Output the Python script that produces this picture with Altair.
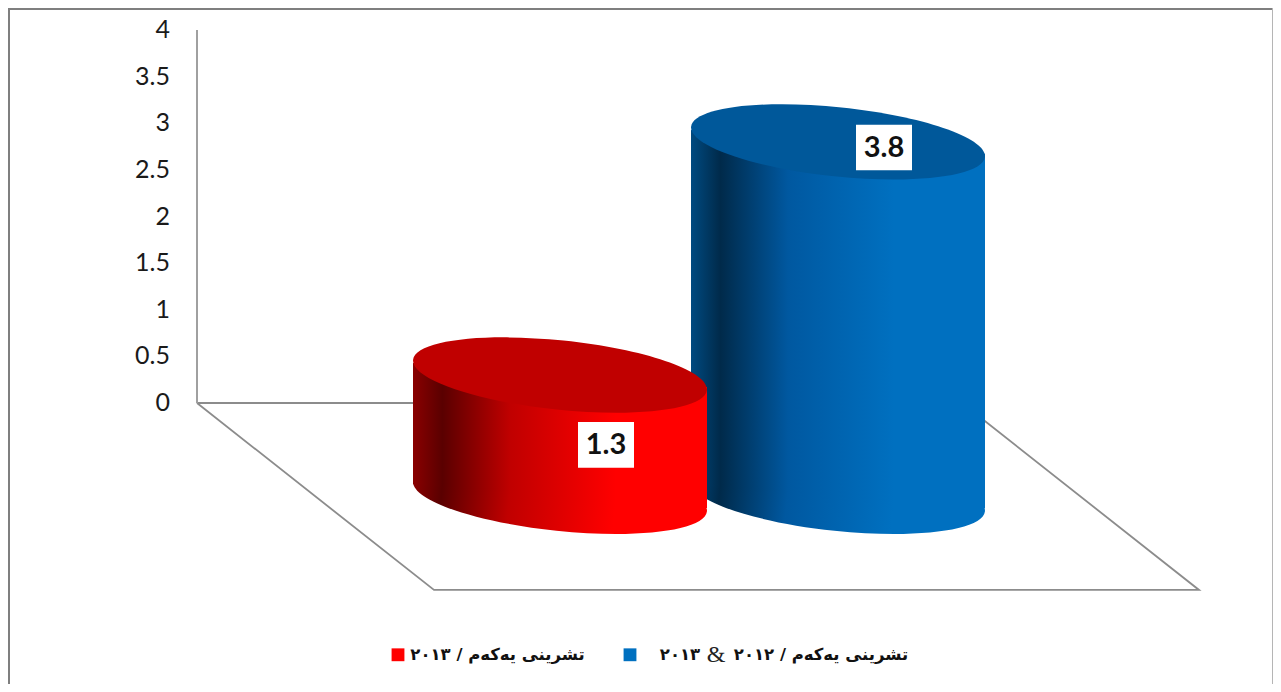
import altair as alt
import pandas as pd

# ---- values
series_a = ["تشرینی یەکەم / ٢٠١٣", "تشرینی یەکەم / ٢٠١٢", "٢٠١٣"]
amp = "&"
values = [1.3, 3.8]
value_labels = ["1.3", "3.8"]
y_ticks = [0, 0.5, 1, 1.5, 2, 2.5, 3, 3.5, 4]

# horizontal floor units are pixels of the plot; vertical units are chart values
cyl_left = [405, 683]
cyl_right = [699, 977]
floor_base = -1.0          # base centre of the cylinders, below the axis zero
edge_drop = 0.128          # tilt of the ellipse at its left / right edge
label_x = [598, 876]
label_y = [-0.45, 2.74]
label_half_w = 28
label_half_h = 0.245
floor_x = [189, 426, 1191, 954, 189]
floor_y = [0, -2.005, -2.005, 0, 0]
axis_x = [189, 189]
axis_y = [0, 4]
legend_sq_x = [390, 622]
legend_text_x = [489.5, 813, 672]
legend_amp_x = 708
legend_y = -2.7

side_stops = [
    [("#8a0000", 0), ("#5a0000", 0.1), ("#c00000", 0.33), ("#ff0000", 0.69), ("#ff0000", 1)],
    [("#004a80", 0), ("#002a4a", 0.1), ("#0058a0", 0.33), ("#0070c0", 0.69), ("#0070c0", 1)],
]
top_colors = ["#c00000", "#00589a"]
legend_colors = ["#ff0000", "#0070c0"]

W, H = 1265, 676
Y_TOP = 4.236
Y_BOTTOM = Y_TOP - H / 93.25
frame_left_x = [1, 1]
frame_left_y = [Y_BOTTOM, Y_TOP]
frame_top_x = [0, W]
frame_top_y = [Y_TOP - 0.011, Y_TOP - 0.011]
frame_right_x = [W - 0.5, W - 0.5]
frame_right_y = [Y_BOTTOM, Y_TOP]

x_scale = alt.Scale(domain=[0, W], range=[0, W], nice=False, zero=False)
y_scale = alt.Scale(domain=[Y_BOTTOM, Y_TOP], range=[H, 0], nice=False, zero=False)
X = lambda f: alt.X(f, type="quantitative", scale=x_scale, axis=None)
Y = lambda f: alt.Y(f, type="quantitative", scale=y_scale, axis=None)
grad = lambda stops: alt.LinearGradient(
    gradient="linear", x1=0, x2=1, y1=0, y2=0,
    stops=[alt.GradientStop(color=c, offset=o) for c, o in stops],
)
ELLIPSE = ("M-1,0 C-1,-0.1295 -0.5523,-0.2345 0,-0.2345 C0.5523,-0.2345 1,-0.1295 1,0 "
           "C1,0.1295 0.5523,0.2345 0,0.2345 C-0.5523,0.2345 -1,0.1295 -1,0 Z")
ELL_SIZE = (2 * 147.7) ** 2
TILT = 5.9


def line(xs, ys, color, width):
    df = pd.DataFrame({"x": xs, "y": ys, "o": range(len(xs))})
    return alt.Chart(df).mark_line(color=color, strokeWidth=width).encode(
        x=X("x"), y=Y("y"), order="o:O")


layers = [
    line(frame_left_x, frame_left_y, "#7f7f7f", 2),
    line(frame_top_x, frame_top_y, "#7f7f7f", 2),
    line(frame_right_x, frame_right_y, "#b5b5b5", 1),
    line(floor_x, floor_y, "#8c8c8c", 1.8),
    line(axis_x, axis_y, "#a0a0a0", 2),
]

layers.append(alt.Chart(pd.DataFrame({"x": [axis_x[0] - 27] * len(y_ticks), "y": y_ticks,
                                      "t": [f"{v:g}" for v in y_ticks]})).mark_text(
    font="Lato", fontSize=25, align="right", baseline="middle", color="#1a1a1a"
).encode(x=X("x"), y=Y("y"), text="t:N"))

for i in [1, 0]:  # blue stands behind red
    top = floor_base + values[i]
    side = pd.DataFrame({
        "x": [cyl_left[i], cyl_right[i]],
        "y": [top + edge_drop, top - edge_drop],
        "y2": [floor_base + edge_drop, floor_base - edge_drop],
    })
    cx = (cyl_left[i] + cyl_right[i]) / 2
    gradient = grad(side_stops[i])
    bottom_df = pd.DataFrame({"x": [cx], "y": [floor_base]})
    top_df = pd.DataFrame({"x": [cx], "y": [top]})
    layers += [
        alt.Chart(bottom_df).mark_point(shape=ELLIPSE, size=ELL_SIZE, angle=TILT, filled=True,
                                        fill=gradient, opacity=1, strokeWidth=0).encode(x=X("x"), y=Y("y")),
        alt.Chart(side).mark_area(fill=gradient, opacity=1).encode(x=X("x"), y=Y("y"), y2="y2:Q"),
        alt.Chart(top_df).mark_point(shape=ELLIPSE, size=ELL_SIZE, angle=TILT, filled=True,
                                     fill=top_colors[i], opacity=1, strokeWidth=0).encode(x=X("x"), y=Y("y")),
    ]

box = pd.DataFrame({
    "x": [v - label_half_w for v in label_x], "x2": [v + label_half_w for v in label_x],
    "y": [v - label_half_h for v in label_y], "y2": [v + label_half_h for v in label_y],
})
layers.append(alt.Chart(box).mark_rect(fill="white", opacity=1).encode(
    x=X("x"), x2="x2:Q", y=Y("y"), y2="y2:Q"))
layers.append(alt.Chart(pd.DataFrame({"x": label_x, "y": label_y, "t": value_labels})).mark_text(
    font="Lato", fontSize=29, fontWeight="bold", color="#111111", baseline="middle"
).encode(x=X("x"), y=Y("y"), text="t:N"))

layers.append(alt.Chart(pd.DataFrame({"x": legend_sq_x, "y": [legend_y] * 2, "c": legend_colors})).mark_square(
    size=165, opacity=1).encode(x=X("x"), y=Y("y"), fill=alt.Fill("c:N", scale=None)))
layers.append(alt.Chart(pd.DataFrame({"x": legend_text_x, "y": [legend_y] * 3, "t": series_a})).mark_text(
    font="DejaVu Sans", fontSize=16.5, fontWeight="bold", color="#111111", baseline="middle"
).encode(x=X("x"), y=Y("y"), text="t:N"))
layers.append(alt.Chart(pd.DataFrame({"x": [legend_amp_x], "y": [legend_y], "t": [amp]})).mark_text(
    font="Liberation Serif", fontSize=24, color="#222222", baseline="middle"
).encode(x=X("x"), y=Y("y"), text="t:N"))

chart = alt.layer(*layers).properties(
    width=W, height=H, padding=0, autosize=alt.AutoSizeParams(type="none"),
).configure_view(stroke=None)

chart.save("out.html", embed_options={"renderer": "svg", "actions": False})
